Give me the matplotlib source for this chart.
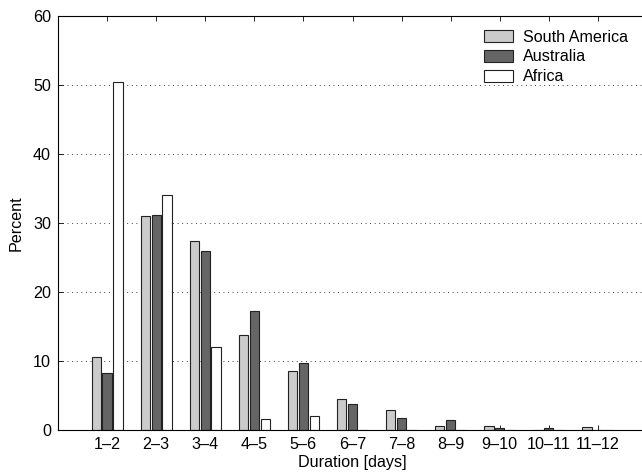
import numpy as np
import matplotlib
matplotlib.use('Agg')
import matplotlib.pyplot as plt

plt.rcParams['font.family'] = ['Liberation Sans', 'DejaVu Sans']

# duration classes and percentages per region
labels = ['1–2', '2–3', '3–4', '4–5', '5–6', '6–7', '7–8', '8–9', '9–10', '10–11', '11–12']
south_america = [10.6, 31.0, 27.4, 13.8, 8.6, 4.5, 2.9, 0.6, 0.6, 0.0, 0.4]
australia = [8.3, 31.2, 26.0, 17.2, 9.7, 3.8, 1.8, 1.5, 0.3, 0.3, 0.0]
africa = [50.4, 34.1, 12.0, 1.6, 2.1, 0.0, 0.0, 0.0, 0.0, 0.0, 0.0]

series = [('South America', south_america, '#cbcbcb'),
          ('Australia', australia, '#656565'),
          ('Africa', africa, 'white')]

fs = 11.6

fig = plt.figure(figsize=(6.42, 4.75), dpi=100)
ax = fig.add_axes([58/642, 1-430/475, 589/642, 414/475])

x = np.arange(1, len(labels)+1)
step = 0.222
w = 0.19
for i, (name, vals, col) in enumerate(series):
    ax.bar(x + (i-1)*step, vals, width=w, color=col, edgecolor='#222222',
           linewidth=0.8, label=name, zorder=2)

ax.set_xlim(0, 12)
ax.set_ylim(0, 60)
ax.set_xticks(x)
ax.set_xticklabels(labels)
ax.set_yticks(np.arange(0, 61, 10))
ax.tick_params(direction='in', top=True, right=True, length=3.5, labelsize=fs, width=0.6, pad=5)
ax.yaxis.grid(True, linestyle=(0, (1, 4.5)), color='black', linewidth=0.6)
ax.set_axisbelow(True)
for s in ax.spines.values():
    s.set_linewidth(0.8)

ax.set_xlabel('Duration [days]', fontsize=fs, labelpad=2)
ax.set_ylabel('Percent', fontsize=fs, labelpad=7)

ax.legend(loc='upper left', bbox_to_anchor=(0.723, 0.967), frameon=False, fontsize=fs,
          handlelength=1.8, handleheight=0.75, labelspacing=0.3, handletextpad=0.62,
          borderaxespad=0, borderpad=0)

fig.savefig('out.png', dpi=100)
